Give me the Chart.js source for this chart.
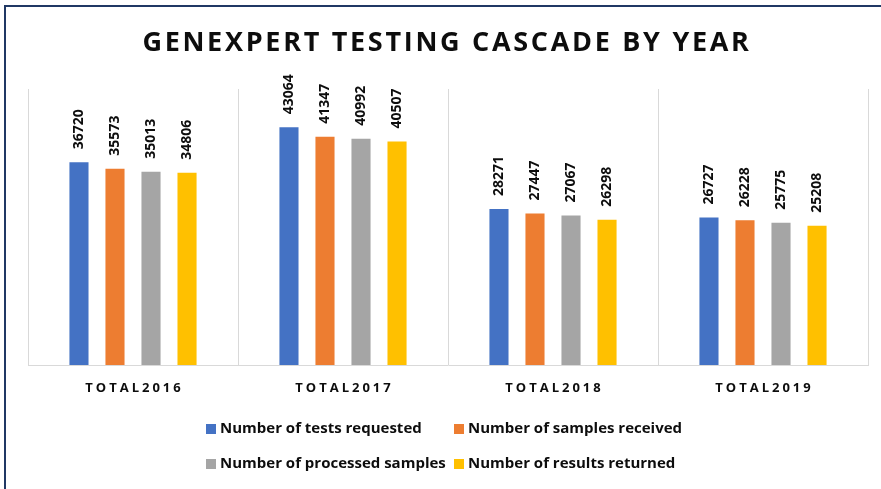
<!DOCTYPE html>
<html>
<head>
<meta charset="utf-8">
<script src="https://cdn.jsdelivr.net/npm/chart.js@4.4.0/dist/chart.umd.min.js"></script>
<style>
  html, body { margin: 0; padding: 0; background: #fff; overflow: hidden; }
  #frame {
    position: absolute; left: 4px; top: 5px; width: 900px; height: 500px;
    border-left: 2px solid #203864; border-top: 2px solid #203864;
  }
  #wrap { position: absolute; left: 0; top: 0; width: 881px; height: 489px; }
</style>
</head>
<body>
<div id="frame"></div>
<div id="wrap"><canvas id="chart"></canvas></div>
<script>
// Chart data
const years = ['TOTAL2016', 'TOTAL2017', 'TOTAL2018', 'TOTAL2019'];
const testsRequested = [36720, 43064, 28271, 26727];
const samplesReceived = [35573, 41347, 27447, 26228];
const processedSamples = [35013, 40992, 27067, 25775];
const resultsReturned = [34806, 40507, 26298, 25208];
const seriesNames = [
  'Number of tests requested',
  'Number of samples received',
  'Number of processed samples',
  'Number of results returned'
];
const seriesColors = ['#4472c4', '#ed7d31', '#a5a5a5', '#ffc000'];
const chartTitle = 'GENEXPERT TESTING CASCADE BY YEAR';

const FONT = '"Open Sans", "DejaVu Sans", sans-serif';
const TEXT_COLOR = '#0d0d0d';

// Draws title, rotated value labels, spaced category labels and a 2x2 legend
const decorPlugin = {
  id: 'decor',
  afterDraw(chart) {
    const ctx = chart.ctx;
    const xScale = chart.scales.x;

    // Title
    ctx.save();
    ctx.fillStyle = TEXT_COLOR;
    ctx.font = 'bold 27px ' + FONT;
    ctx.letterSpacing = '2.7px';
    ctx.textAlign = 'center';
    ctx.textBaseline = 'middle';
    ctx.fillText(chartTitle, 447, 43);
    ctx.restore();

    // Category labels
    ctx.save();
    ctx.fillStyle = TEXT_COLOR;
    ctx.font = 'bold 13px ' + FONT;
    ctx.letterSpacing = '3px';
    ctx.textAlign = 'center';
    ctx.textBaseline = 'middle';
    years.forEach((label, i) => {
      ctx.fillText(label, xScale.getPixelForValue(i) + 1.5, 388);
    });
    ctx.restore();

    // Value labels above each bar
    ctx.save();
    ctx.fillStyle = TEXT_COLOR;
    ctx.font = 'bold 14px ' + FONT;
    ctx.textAlign = 'left';
    ctx.textBaseline = 'middle';
    chart.data.datasets.forEach((ds, di) => {
      const meta = chart.getDatasetMeta(di);
      meta.data.forEach((bar, i) => {
        ctx.save();
        ctx.translate(bar.x, bar.y - 13);
        ctx.rotate(-Math.PI / 2);
        ctx.fillText(String(ds.data[i]), 0, 0);
        ctx.restore();
      });
    });
    ctx.restore();

    // Legend (two columns, two rows)
    ctx.save();
    ctx.font = 'bold 15px ' + FONT;
    ctx.textBaseline = 'middle';
    ctx.textAlign = 'left';
    const colX = [206, 454];
    const rowY = [429, 464];
    chart.data.datasets.forEach((ds, di) => {
      const x = colX[di % 2];
      const y = rowY[Math.floor(di / 2)];
      ctx.fillStyle = ds.backgroundColor;
      ctx.fillRect(x, y - 5, 10, 10);
      ctx.fillStyle = TEXT_COLOR;
      ctx.fillText(ds.label, x + 14, y);
    });
    ctx.restore();
  }
};

const datasets = [testsRequested, samplesReceived, processedSamples, resultsReturned].map((data, i) => ({
  label: seriesNames[i],
  data: data,
  backgroundColor: seriesColors[i],
  borderWidth: 0,
  barPercentage: 0.53,
  categoryPercentage: 0.686
}));

new Chart(document.getElementById('chart'), {
  type: 'bar',
  data: { labels: years, datasets: datasets },
  plugins: [decorPlugin],
  options: {
    responsive: true,
    maintainAspectRatio: false,
    animation: false,
    layout: { padding: { left: 28, right: 13, top: 89, bottom: 124 } },
    plugins: {
      legend: { display: false },
      title: { display: false },
      tooltip: { enabled: false }
    },
    scales: {
      x: {
        grid: { color: '#d9d9d9', lineWidth: 1, offset: true, drawTicks: false },
        border: { color: '#d9d9d9', width: 1 },
        ticks: { display: false }
      },
      y: {
        display: false,
        min: 0,
        max: 50000
      }
    }
  }
});
</script>
</body>
</html>
